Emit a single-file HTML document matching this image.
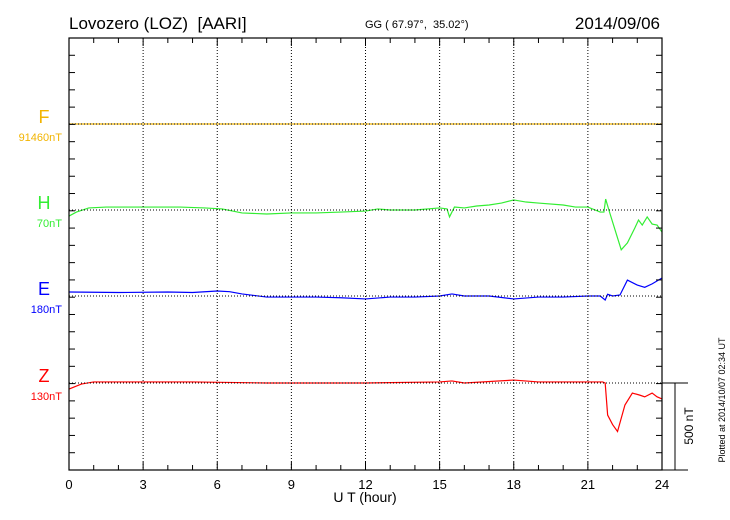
<!DOCTYPE html>
<html><head><meta charset="utf-8"><style>
body{margin:0;background:#fff}
svg{display:block;font-family:"Liberation Sans",sans-serif}
text{white-space:pre}
</style></head><body>
<svg id="c" width="730" height="520">
<text x="69" y="29" font-size="17" xml:space="preserve">Lovozero (LOZ)  [AARI]</text>
<text x="365" y="28" font-size="11" xml:space="preserve">GG ( 67.97°,  35.02°)</text>
<text x="660" y="29" font-size="17" text-anchor="end">2014/09/06</text>
<text x="365" y="502" font-size="14" text-anchor="middle">U T (hour)</text>
<text transform="translate(725,400) rotate(-90)" font-size="9" text-anchor="middle">Plotted at 2014/10/07 02:34 UT</text>
<text transform="translate(693,426) rotate(-90)" font-size="12" text-anchor="middle">500 nT</text>
<g id="g"></g>
</svg>
<script>
const xTicks=[0,3,6,9,12,15,18,21,24];
const labels=["F","H","E","Z"];
const baseLabels=["91460nT","70nT","180nT","130nT"];
const colors=["#f2b400","#33ee33","#0000ff","#ff0000"];
const fHours=[0,24];
const fVals=[0,0];
const hHours=[0,0.3,0.8,1.5,3,4.5,5.5,6.2,7,8,9,10,11,12,12.5,13,14,15,15.3,15.4,15.6,16,16.5,17,17.5,18,18.5,19,20,20.5,21,21.5,21.65,21.72,21.85,22.1,22.35,22.6,22.9,23.05,23.2,23.4,23.6,23.8,24];
const hVals=[-35,-12,12,17,17,17,12,6,-17,-23,-17,-17,-12,-6,6,0,0,12,6,-40,17,12,23,29,40,58,46,40,29,17,17,-12,-12,63,0,-115,-230,-190,-104,-58,-87,-40,-81,-87,-127];
const eHours=[0,2,4,5,6,6.5,7,8,9,10,11,12,13,14,15,15.5,16,17,18,19,20,21,21.5,21.7,21.8,22,22.3,22.6,23,23.3,23.6,24];
const eVals=[23,20,23,20,29,25,12,-6,-6,-6,-10,-17,-6,-6,0,12,0,0,-17,-6,-6,0,0,-23,10,0,6,92,63,50,70,104];
const zHours=[0,0.5,1,3,5,8,12,15,15.5,16,18,19,20,21,21.6,21.7,21.8,22.0,22.2,22.5,22.8,23.1,23.3,23.6,23.8,24];
const zVals=[-35,-6,6,6,6,0,0,6,12,0,17,6,6,6,6,0,-185,-240,-280,-127,-58,-70,-80,-58,-80,-92];
const series=[[fHours,fVals],[hHours,hVals],[eHours,eVals],[zHours,zVals]];
const L=69,R=662,T=38,B=470,bases=[124,210,296,383],pxPerNT=86.6/500;
const X=h=>L+(R-L)*h/24;
const Y=(i,v)=>bases[i]-v*pxPerNT;
const g=document.getElementById('g');
const ns='http://www.w3.org/2000/svg';
function mk(t,a){const e=document.createElementNS(ns,t);for(const k in a)e.setAttribute(k,a[k]);g.appendChild(e);return e;}
// series
series.forEach(([hs,vs],i)=>{const p=mk('polyline',{points:hs.map((h,j)=>X(h)+','+Y(i,vs[j])).join(' '),fill:'none',stroke:colors[i],'stroke-width':1.2});

});
// grid
xTicks.slice(1,-1).forEach(h=>{const e=mk('line',{x1:X(h),x2:X(h),y1:T,y2:B,stroke:'#000','stroke-dasharray':'1,2','stroke-width':1});

});
bases.forEach((b,i)=>{const e=mk('line',{x1:L,x2:R,y1:b,y2:b,stroke:'#000','stroke-dasharray':'1,2'});

});
// frame
const fr=mk('rect',{x:L,y:T,width:R-L,height:B-T,fill:'none',stroke:'#000','stroke-width':1.2});


for(let h=0;h<=24;h++){const len=h%3==0?8:5;
const a=mk('line',{x1:X(h),x2:X(h),y1:B,y2:B-len,stroke:'#000'});
const b=mk('line',{x1:X(h),x2:X(h),y1:T,y2:T+len,stroke:'#000'});}
for(let k=0;k<=25;k++){const y=T+k*(B-T)/25;
const a=mk('line',{x1:L,x2:L+6,y1:y,y2:y,stroke:'#000'});
const b=mk('line',{x1:R,x2:R-6,y1:y,y2:y,stroke:'#000'});}
xTicks.forEach(h=>{const t=mk('text',{x:X(h),y:489,'font-size':13,'text-anchor':'middle'});t.textContent=h;

});
// labels
labels.forEach((s,i)=>{const t=mk('text',{x:44,y:bases[i]-1,'font-size':18,'text-anchor':'middle',fill:colors[i]});t.textContent=s;


const u=mk('text',{x:62,y:bases[i]+17,'font-size':11,'text-anchor':'end',fill:colors[i]});u.textContent=baseLabels[i];

});
// scale bar
[[675,675,383,470],[662,688,383,383],[662,688,470,470]].forEach(c=>{const e=mk('line',{x1:c[0],x2:c[1],y1:c[2],y2:c[3],stroke:'#000'});

});
</script>
</body></html>
